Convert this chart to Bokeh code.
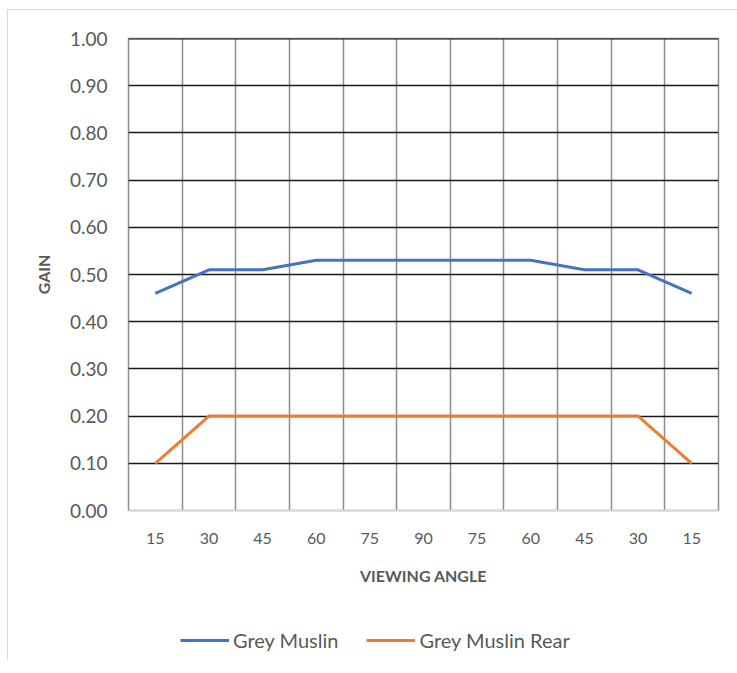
from bokeh.plotting import figure
from bokeh.layouts import column
from bokeh.models import (FixedTicker, NumeralTickFormatter, Grid, Legend, LegendItem,
                          ColumnDataSource, Span)
from bokeh.embed import file_html
from bokeh.resources import INLINE

# ---- data ----
angles = ["15", "30", "45", "60", "75", "90", "75", "60", "45", "30", "15"]
grey_muslin = [0.46, 0.51, 0.51, 0.53, 0.53, 0.53, 0.53, 0.53, 0.51, 0.51, 0.46]
grey_muslin_rear = [0.10, 0.20, 0.20, 0.20, 0.20, 0.20, 0.20, 0.20, 0.20, 0.20, 0.10]
y_ticks = [0.0, 0.1, 0.2, 0.3, 0.4, 0.5, 0.6, 0.7, 0.8, 0.9, 1.0]

FONT = "Lato"
TXT = "#595959"
BLUE = "#4472C4"
ORANGE = "#ED7D31"

n = len(angles)
xpos = [i + 0.5 for i in range(n)]

p = figure(frame_width=590, frame_height=472, x_range=(0, n), y_range=(0, 1),
           output_backend="svg", toolbar_location=None,
           min_border_left=120, min_border_right=19, min_border_top=28,
           min_border_bottom=90)
p.outline_line_color = "#8c8c8c"
p.outline_line_width = 1.5
p.background_fill_color = "white"
p.border_fill_color = "white"

# grids
p.xgrid.visible = False
p.ygrid.visible = False
p.add_layout(Grid(dimension=0, ticker=FixedTicker(ticks=list(range(1, n))),
                  grid_line_color="#8c8c8c", grid_line_width=1.5))
p.add_layout(Grid(dimension=1, ticker=FixedTicker(ticks=y_ticks[1:]),
                  grid_line_color="#1a1a1a", grid_line_width=1.5))
p.add_layout(Span(location=1.0, dimension="width", line_color="#1a1a1a",
                  line_width=2, level="overlay"))

# x axis
xa = p.xaxis[0]
xa.ticker = FixedTicker(ticks=xpos)
xa.major_label_overrides = {x: a for x, a in zip(xpos, angles)}
xa.major_tick_line_color = None
xa.minor_tick_line_color = None
xa.axis_line_color = "#d9d9d9"
xa.axis_line_width = 1.5
xa.major_label_text_font = FONT
xa.major_label_text_font_size = "16px"
xa.major_label_text_color = TXT
xa.major_label_standoff = 16
xa.axis_label = "VIEWING ANGLE"
xa.axis_label_text_font = FONT
xa.axis_label_text_font_size = "16px"
xa.axis_label_text_font_style = "bold"
xa.axis_label_text_color = TXT
xa.axis_label_standoff = 19

# y axis
ya = p.yaxis[0]
ya.ticker = FixedTicker(ticks=y_ticks)
ya.formatter = NumeralTickFormatter(format="0.00")
ya.major_tick_line_color = None
ya.minor_tick_line_color = None
ya.axis_line_color = None
ya.major_label_text_font = FONT
ya.major_label_text_font_size = "19px"
ya.major_label_text_color = TXT
ya.major_label_standoff = 15
ya.axis_label = "GAIN"
ya.axis_label_text_font = FONT
ya.axis_label_text_font_size = "16px"
ya.axis_label_text_font_style = "bold"
ya.axis_label_text_color = TXT
ya.axis_label_standoff = 14

src = ColumnDataSource(dict(x=xpos, a=grey_muslin, b=grey_muslin_rear))
p.line("x", "a", source=src, line_color=BLUE, line_width=3)
p.line("x", "b", source=src, line_color=ORANGE, line_width=3)

# legend strip (separate figure beneath the chart)
lg = figure(width=729, height=60, x_range=(0, 1), y_range=(0, 1),
            output_backend="svg", toolbar_location=None,
            min_border_left=0, min_border_right=0, min_border_top=0,
            min_border_bottom=0)
lg.axis.visible = False
lg.grid.visible = False
lg.outline_line_color = None
lg.background_fill_color = "white"
lg.border_fill_color = "white"
# key renderers kept outside the visible range so only their legend swatches show
k1 = lg.line(x=[5, 6], y=[5, 5], line_color=BLUE, line_width=3)
k2 = lg.line(x=[5, 6], y=[5, 5], line_color=ORANGE, line_width=3)
legend = Legend(items=[LegendItem(label="Grey Muslin", renderers=[k1]),
                       LegendItem(label="Grey Muslin Rear", renderers=[k2])],
                orientation="horizontal", location=(52, 8),
                border_line_color=None, background_fill_alpha=0,
                label_text_font=FONT, label_text_font_size="20px",
                label_text_color=TXT, glyph_width=49, label_standoff=4,
                spacing=28, padding=0, margin=0)
lg.add_layout(legend, "center")

layout = column(p, lg, spacing=0)
layout.styles = {"border-left": "1px solid #d9d9d9", "border-top": "1px solid #d9d9d9",
                 "margin-left": "7px", "margin-top": "9px"}

open("out.html", "w").write(file_html(layout, INLINE))
